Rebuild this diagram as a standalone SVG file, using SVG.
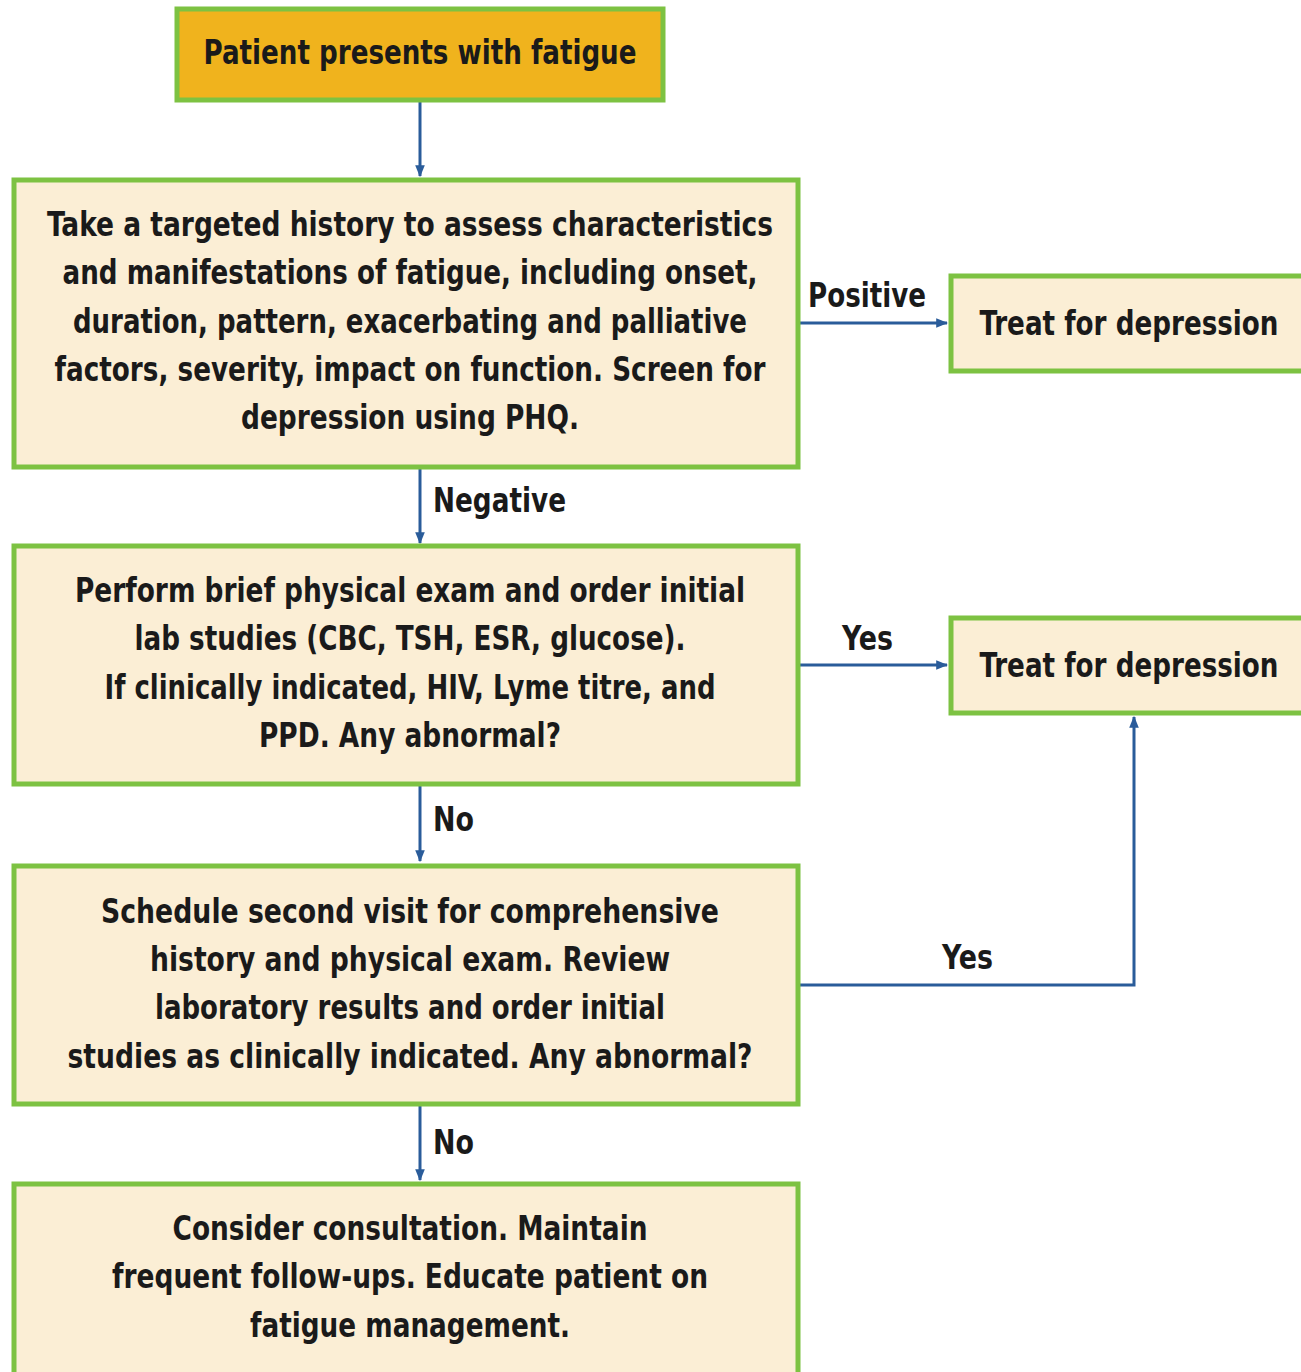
<svg xmlns="http://www.w3.org/2000/svg" width="1301" height="1372" viewBox="0 0 1301 1372">
<defs>
<style>
.box{fill:#FBEED5;stroke:#7DC242;stroke-width:5}
.top{fill:#F0B31D;stroke:#7DC242;stroke-width:5}
.t{font-family:"Liberation Sans Narrow","DejaVu Sans Condensed","Liberation Sans",sans-serif;font-size:34px;font-weight:bold;fill:#1a1a1a;text-anchor:middle}
.l{font-family:"Liberation Sans Narrow","DejaVu Sans Condensed","Liberation Sans",sans-serif;font-size:34px;font-weight:bold;fill:#1a1a1a}
.c{fill:none;stroke:#2A5C9A;stroke-width:3;marker-end:url(#a)}
</style>
<marker id="a" viewBox="0 0 10 10" refX="9" refY="5" markerWidth="4" markerHeight="4" orient="auto" markerUnits="strokeWidth">
<path d="M0,1 L10,5 L0,9 Z" fill="#2A5C9A"/>
</marker>
</defs>
<rect width="1301" height="1372" fill="#ffffff"/>
<g id="connectors">
<path class="c" d="M420,101 V176"/>
<path class="c" d="M799,323 H947"/>
<path class="c" d="M420,468 V543"/>
<path class="c" d="M799,665 H947"/>
<path class="c" d="M420,785 V861"/>
<path class="c" d="M799,985 H1134 V717"/>
<path class="c" d="M420,1105 V1180"/>
<text class="l" x="808" y="307" textLength="118" lengthAdjust="spacingAndGlyphs">Positive</text>
<text class="l" x="433" y="512" textLength="133" lengthAdjust="spacingAndGlyphs">Negative</text>
<text class="l" x="842" y="650" textLength="51" lengthAdjust="spacingAndGlyphs">Yes</text>
<text class="l" x="433" y="831" textLength="41" lengthAdjust="spacingAndGlyphs">No</text>
<text class="l" x="942" y="969" textLength="51" lengthAdjust="spacingAndGlyphs">Yes</text>
<text class="l" x="433" y="1154" textLength="41" lengthAdjust="spacingAndGlyphs">No</text>
</g>
<g id="n1">
<rect class="top" x="177" y="9" width="486" height="91"/>
<text class="t" x="420" y="64" textLength="433" lengthAdjust="spacingAndGlyphs">Patient presents with fatigue</text>
</g>
<g id="n2">
<rect class="box" x="14" y="180" width="784" height="287"/>
<text class="t" x="410" y="236" textLength="726" lengthAdjust="spacingAndGlyphs">Take a targeted history to assess characteristics</text>
<text class="t" x="410" y="284" textLength="695" lengthAdjust="spacingAndGlyphs">and manifestations of fatigue, including onset,</text>
<text class="t" x="410" y="333" textLength="674" lengthAdjust="spacingAndGlyphs">duration, pattern, exacerbating and palliative</text>
<text class="t" x="410" y="381" textLength="711" lengthAdjust="spacingAndGlyphs">factors, severity, impact on function. Screen for</text>
<text class="t" x="410" y="429" textLength="338" lengthAdjust="spacingAndGlyphs">depression using PHQ.</text>
</g>
<g id="n3">
<rect class="box" x="951" y="276" width="355" height="95"/>
<text class="t" x="1129" y="335" textLength="299" lengthAdjust="spacingAndGlyphs">Treat for depression</text>
</g>
<g id="n4">
<rect class="box" x="14" y="546" width="784" height="238"/>
<text class="t" x="410" y="602" textLength="670" lengthAdjust="spacingAndGlyphs">Perform brief physical exam and order initial</text>
<text class="t" x="410" y="650" textLength="551" lengthAdjust="spacingAndGlyphs">lab studies (CBC, TSH, ESR, glucose).</text>
<text class="t" x="410" y="699" textLength="611" lengthAdjust="spacingAndGlyphs">If clinically indicated, HIV, Lyme titre, and</text>
<text class="t" x="410" y="747" textLength="302" lengthAdjust="spacingAndGlyphs">PPD. Any abnormal?</text>
</g>
<g id="n5">
<rect class="box" x="951" y="618" width="355" height="95"/>
<text class="t" x="1129" y="677" textLength="299" lengthAdjust="spacingAndGlyphs">Treat for depression</text>
</g>
<g id="n6">
<rect class="box" x="14" y="866" width="784" height="238"/>
<text class="t" x="410" y="923" textLength="618" lengthAdjust="spacingAndGlyphs">Schedule second visit for comprehensive</text>
<text class="t" x="410" y="971" textLength="520" lengthAdjust="spacingAndGlyphs">history and physical exam. Review</text>
<text class="t" x="410" y="1019" textLength="510" lengthAdjust="spacingAndGlyphs">laboratory results and order initial</text>
<text class="t" x="410" y="1068" textLength="685" lengthAdjust="spacingAndGlyphs">studies as clinically indicated. Any abnormal?</text>
</g>
<g id="n7">
<rect class="box" x="14" y="1184" width="784" height="200"/>
<text class="t" x="410" y="1240" textLength="475" lengthAdjust="spacingAndGlyphs">Consider consultation. Maintain</text>
<text class="t" x="410" y="1288" textLength="596" lengthAdjust="spacingAndGlyphs">frequent follow-ups. Educate patient on</text>
<text class="t" x="410" y="1337" textLength="320" lengthAdjust="spacingAndGlyphs">fatigue management.</text>
</g>
</svg>
